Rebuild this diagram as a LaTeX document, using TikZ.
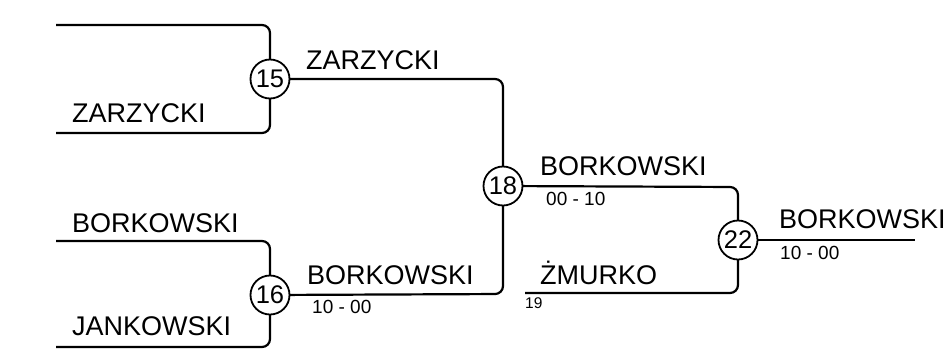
\documentclass[tikz,border=0pt]{standalone}
\usepackage{fontspec}
\setmainfont{Liberation Sans}
\begin{document}
\begin{tikzpicture}[x=1pt,y=-1pt,
  wire/.style={line width=2.2pt,rounded corners=8pt},
  matchc/.style={circle,draw,line width=1.8pt,fill=white,minimum size=39pt,inner sep=0pt,font=\fontsize{25.5}{27}\selectfont},
  pname/.style={anchor=base west,inner sep=0pt,font=\fontsize{27}{30}\selectfont},
  pscore/.style={anchor=base west,inner sep=0pt,font=\fontsize{19}{21}\selectfont},
  pseed/.style={anchor=base west,inner sep=0pt,font=\fontsize{15.5}{17}\selectfont}]
\useasboundingbox (0,0) rectangle (946,349);
% matches
\coordinate (c15) at (270,79);
\coordinate (c16) at (270,295);
\coordinate (c18) at (503,186);
\coordinate (c22) at (738,240);
% free ends
\coordinate (e1) at (56,25);
\coordinate (e2) at (56,133);
\coordinate (e3) at (56,241);
\coordinate (e4) at (56,347);
\coordinate (e5) at (525,293);
\coordinate (e6) at (915,240);
% wires
\draw[wire] (e1) -- (270,25) -- (c15);
\draw[wire] (e2) -- (270,133) -- (c15);
\draw[wire] (e3) -- (270,241) -- (c16);
\draw[wire] (e4) -- (270,347) -- (c16);
\draw[wire] (c15) -- (503,79) -- (c18);
\draw[wire] (c16) -- (503,294) -- (c18);
\draw[wire] (c18) -- (738,187) -- (c22);
\draw[wire] (e5) -- (738,293) -- (c22);
\draw[wire] (c22) -- (e6);
% circles on top
\node[matchc] (m15) at (c15) {15};
\node[matchc] (m16) at (c16) {16};
\node[matchc] (m18) at (c18) {18};
\node[matchc] (m22) at (c22) {22};
% labels
\node[pname] (n1) at (72,122) {ZARZYCKI};
\node[pname] (n2) at (72,232) {BORKOWSKI};
\node[pname] (n3) at (72,335) {JANKOWSKI};
\node[pname] (n4) at (306,69) {ZARZYCKI};
\node[pname] (n5) at (307,284) {BORKOWSKI};
\node[pscore] (s5) at (312,313) {10 - 00};
\node[pname] (n6) at (540,175) {BORKOWSKI};
\node[pscore] (s6) at (546,205) {00 - 10};
\node[pname] (n7) at (540,284) {ŻMURKO};
\node[pseed] (t7) at (525,308) {19};
\node[pname] (n8) at (779,228) {BORKOWSKI};
\node[pscore] (s8) at (780,259) {10 - 00};
\end{tikzpicture}
\end{document}
